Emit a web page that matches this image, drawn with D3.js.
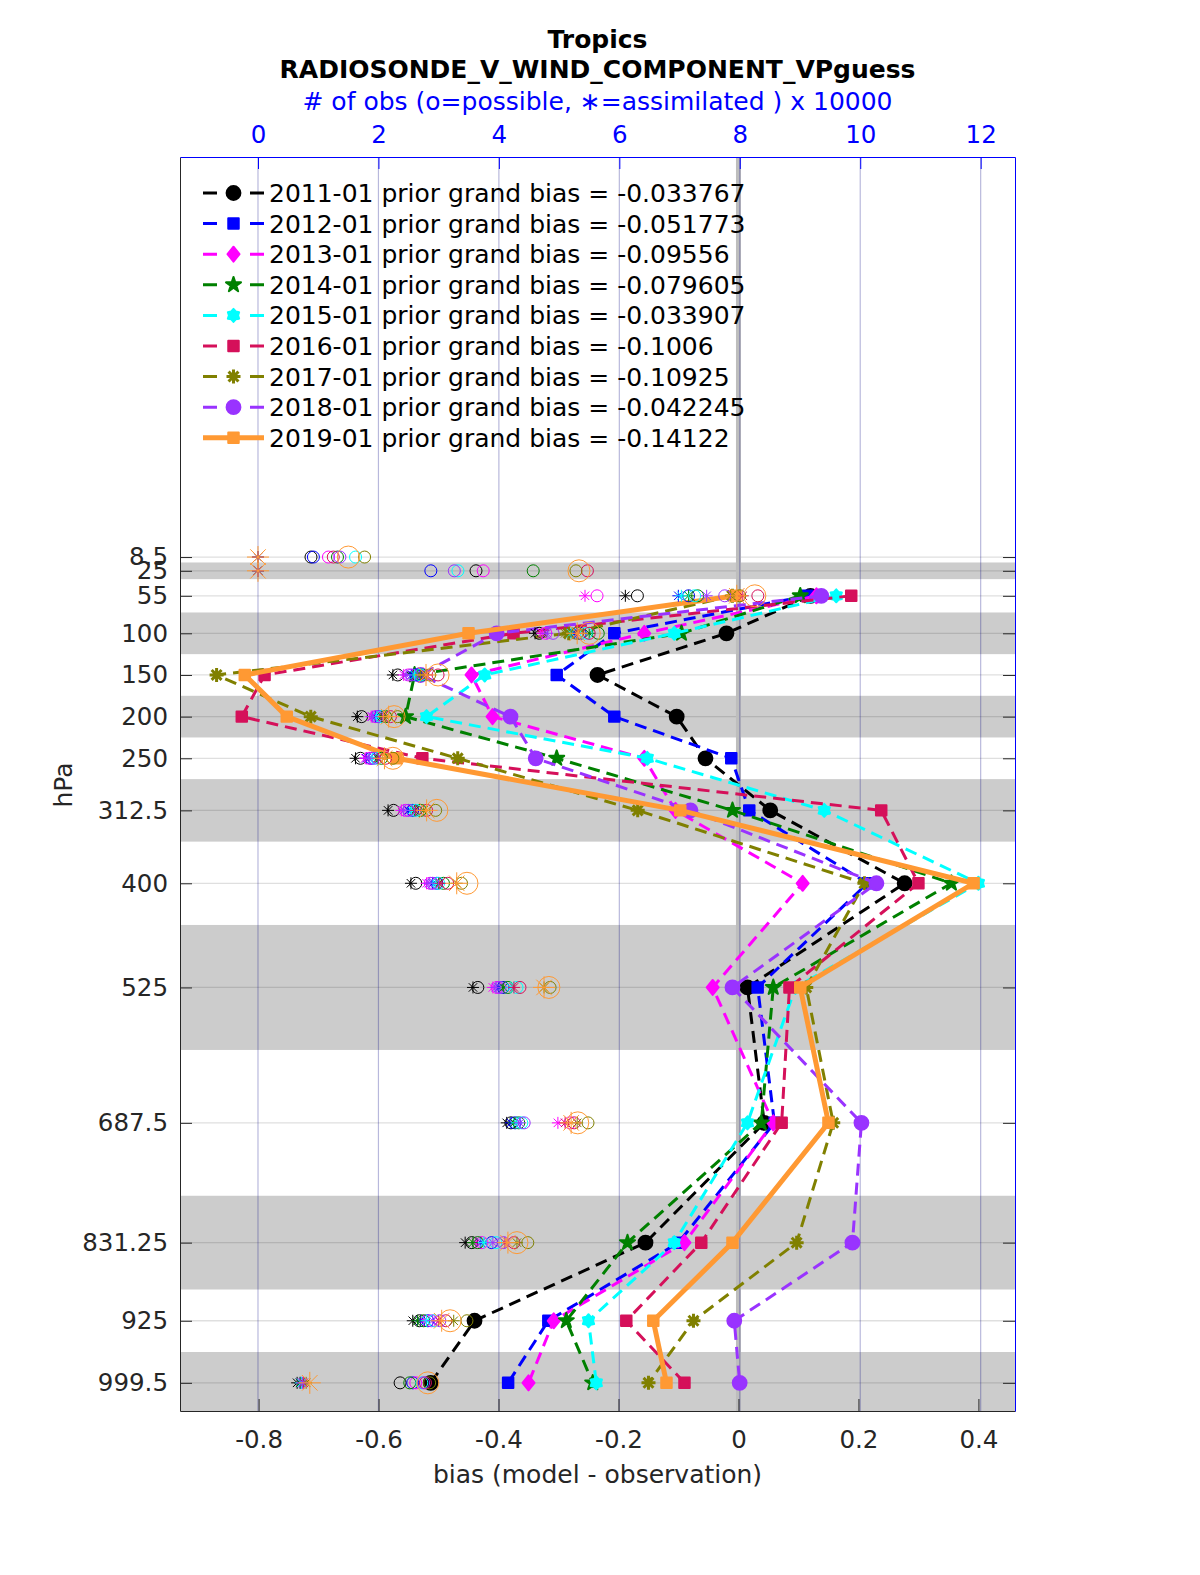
<!DOCTYPE html>
<meta charset="utf-8">
<head>
<style>
body { margin: 0; background: #fff; }
text { font-family: "DejaVu Sans", sans-serif; }
.axis text { font-size: 24.5px; fill: #262626; }
.axis path, .axis line { stroke: #262626; stroke-width: 1; }
.obsaxis text { font-size: 24.5px; fill: #0000ff; }
.obsaxis path, .obsaxis line { stroke: #0000ff; stroke-width: 1; }
</style>
</head>
<body>
<div id="my_dataviz"></div>
<script src="https://d3js.org/d3.v7.min.js"></script>
<script>

// pressure levels (hPa) and tick labels
var levels = [8.5, 25, 55, 100, 150, 200, 250, 312.5, 400, 525, 687.5, 831.25, 925, 999.5];
var levelLabels = ["8.5", "25", "55", "100", "150", "200", "250", "312.5", "400", "525", "687.5", "831.25", "925", "999.5"];
var biasTicks = [-0.8, -0.6, -0.4, -0.2, 0, 0.2, 0.4];
var obsTicks = [0, 2, 4, 6, 8, 10, 12];

// shaded layers (hPa)
var bandTop    = [15, 75, 175, 275, 450, 775, 962.5];
var bandBottom = [35, 125, 225, 350, 600, 887.5, 1040];

var years = ["2011-01", "2012-01", "2013-01", "2014-01", "2015-01", "2016-01", "2017-01", "2018-01", "2019-01"];
var grandBias = ["-0.033767", "-0.051773", "-0.09556", "-0.079605", "-0.033907", "-0.1006", "-0.10925", "-0.042245", "-0.14122"];

// prior bias per level (null = no value)
var bias2011 = [null, null, 0.120, -0.020, -0.235, -0.103, -0.055, 0.053, 0.277, 0.015, 0.043, -0.155, -0.440, -0.513];
var bias2012 = [null, null, 0.115, -0.207, -0.303, -0.207, -0.012, 0.018, 0.215, 0.032, 0.060, -0.100, -0.317, -0.384];
var bias2013 = [null, null, 0.130, -0.157, -0.445, -0.410, -0.157, -0.105, 0.107, -0.043, 0.058, -0.090, -0.308, -0.350];
var bias2014 = [null, null, 0.103, -0.095, -0.540, -0.555, -0.303, -0.010, 0.355, 0.058, 0.038, -0.185, -0.287, -0.243];
var bias2015 = [null, null, 0.163, -0.107, -0.423, -0.520, -0.152, 0.143, 0.400, 0.095, 0.015, -0.107, -0.250, -0.237];
var bias2016 = [null, null, 0.188, -0.375, -0.790, -0.828, -0.527, 0.238, 0.300, 0.085, 0.072, -0.062, -0.187, -0.090];
var bias2017 = [null, null, -0.010, -0.283, -0.870, -0.713, -0.468, -0.168, 0.210, 0.113, 0.158, 0.097, -0.075, -0.150];
var bias2018 = [null, null, 0.138, -0.403, -0.530, -0.380, -0.338, -0.080, 0.230, -0.010, 0.205, 0.190, -0.007, 0.002];
var bias2019 = [null, null, -0.005, -0.450, -0.823, -0.753, -0.570, -0.097, 0.392, 0.103, 0.150, -0.010, -0.142, -0.120];

// number of obs possible (x 10000)
var possible2011 = [0.88, 3.62, 6.30, 4.67, 2.32, 1.72, 1.70, 2.25, 2.62, 3.65, 4.20, 3.55, 2.68, 2.36];
var possible2012 = [0.92, 2.87, 7.15, 5.35, 2.62, 2.02, 1.88, 2.57, 2.97, 4.07, 4.27, 3.88, 2.82, 2.57];
var possible2013 = [1.17, 3.74, 5.63, 4.78, 2.50, 1.95, 1.85, 2.45, 2.86, 3.97, 5.18, 3.72, 2.88, 2.62];
var possible2014 = [1.32, 4.57, 7.30, 5.65, 2.72, 2.12, 2.05, 2.70, 3.08, 4.15, 4.33, 3.65, 2.75, 2.52];
var possible2015 = [1.62, 3.32, 7.25, 5.45, 2.70, 2.05, 1.97, 2.62, 3.00, 4.30, 4.38, 3.95, 2.92, 2.72];
var possible2016 = [1.25, 5.47, 8.30, 5.50, 2.99, 2.20, 2.12, 2.80, 3.15, 4.35, 5.25, 4.25, 3.12, 2.78];
var possible2017 = [1.77, 5.28, 8.00, 5.30, 2.85, 2.32, 2.24, 2.95, 3.38, 4.85, 5.48, 4.48, 3.47, 2.85];
var possible2018 = [1.36, 3.26, 7.75, 4.90, 2.55, 1.98, 1.92, 2.50, 2.90, 4.02, 4.42, 4.07, 3.02, 2.75];
var possible2019 = [1.50, 5.33, 8.25, 5.50, 2.99, 2.26, 2.24, 2.97, 3.47, 4.83, 5.31, 4.30, 3.19, 2.82];

// number of obs assimilated (x 10000)
var assim2011 = [0, 0, 6.10, 4.60, 2.24, 1.65, 1.62, 2.16, 2.54, 3.57, 4.13, 3.44, 2.57, 0.65];
var assim2012 = [0, 0, 6.98, 5.25, 2.55, 1.95, 1.80, 2.50, 2.90, 4.00, 4.20, 3.70, 2.70, 0.70];
var assim2013 = [0, 0, 5.43, 4.72, 2.42, 1.88, 1.78, 2.38, 2.80, 3.90, 4.98, 3.62, 2.75, 0.72];
var assim2014 = [0, 0, 7.15, 5.50, 2.65, 2.05, 1.98, 2.60, 3.00, 4.08, 4.25, 3.57, 2.65, 0.70];
var assim2015 = [0, 0, 7.03, 5.20, 2.60, 1.97, 1.90, 2.55, 2.95, 4.20, 4.30, 3.75, 2.80, 0.72];
var assim2016 = [0, 0, 8.05, 5.30, 2.80, 2.08, 2.00, 2.62, 3.02, 4.25, 5.10, 4.10, 3.00, 0.76];
var assim2017 = [0, 0, 7.85, 5.10, 2.70, 2.12, 2.10, 2.75, 3.30, 4.75, 5.30, 4.30, 3.25, 0.80];
var assim2018 = [0, 0, 7.45, 4.80, 2.46, 1.90, 1.85, 2.42, 2.84, 3.95, 4.35, 3.90, 2.90, 0.74];
var assim2019 = [0, 0, 7.95, 5.30, 2.79, 2.17, 2.10, 2.80, 3.30, 4.75, 5.20, 4.15, 3.05, 0.86];

var biasSeries = [bias2011, bias2012, bias2013, bias2014, bias2015, bias2016, bias2017, bias2018, bias2019];
var possibleSeries = [possible2011, possible2012, possible2013, possible2014, possible2015, possible2016, possible2017, possible2018, possible2019];
var assimSeries = [assim2011, assim2012, assim2013, assim2014, assim2015, assim2016, assim2017, assim2018, assim2019];

// styles
var colors = ["#000000", "#0000ff", "#ff00ff", "#008000", "#00ffff", "#d5105a", "#808000", "#9933ff", "#ff9933"];
var shapes = ["circle", "square", "diamond", "star", "hexagram", "square", "asterisk", "circle", "square"];

// plot box
var box = {left: 180, top: 157, right: 1015, bottom: 1411};

var svg = d3.select("#my_dataviz")
  .append("svg")
    .attr("width", 1200)
    .attr("height", 1575);

var x = d3.scaleLinear().domain([-0.931, 0.461]).range([box.left, box.right]);
var xObs = d3.scaleLinear().domain([-1.295, 12.57]).range([box.left, box.right]);
var y = d3.scaleLinear().domain([-471.6, 1033.3]).range([box.top, box.bottom]);

svg.append("clipPath").attr("id", "plotclip")
  .append("rect")
    .attr("x", box.left).attr("y", box.top)
    .attr("width", box.right - box.left).attr("height", box.bottom - box.top);

var plot = svg.append("g").attr("clip-path", "url(#plotclip)");

// grey layers
plot.selectAll(".band")
  .data(bandTop)
  .enter()
  .append("rect")
    .attr("x", box.left)
    .attr("width", box.right - box.left)
    .attr("y", function(d) { return y(d); })
    .attr("height", function(d, i) { return y(bandBottom[i]) - y(d); })
    .style("fill", "#cccccc");

// horizontal grid
plot.selectAll(".hgrid")
  .data(levels)
  .enter()
  .append("line")
    .attr("x1", box.left).attr("x2", box.right)
    .attr("y1", function(d) { return y(d); })
    .attr("y2", function(d) { return y(d); })
    .style("stroke", "rgba(38,38,38,0.15)")
    .style("stroke-width", 1.3);

// zero line
plot.append("line")
  .attr("x1", x(0)).attr("x2", x(0))
  .attr("y1", box.top).attr("y2", box.bottom)
  .style("stroke", "#bdbdbd")
  .style("stroke-width", 5);

// vertical grid from obs axis
plot.selectAll(".vgrid")
  .data(obsTicks)
  .enter()
  .append("line")
    .attr("x1", function(d) { return xObs(d); })
    .attr("x2", function(d) { return xObs(d); })
    .attr("y1", box.top).attr("y2", box.bottom)
    .style("stroke", "rgba(0,0,128,0.28)")
    .style("stroke-width", 1.2);

function asteriskPath(r) {
  var s = r * 0.7071;
  return "M" + (-r) + ",0L" + r + ",0M0," + (-r) + "L0," + r +
    "M" + (-s) + "," + (-s) + "L" + s + "," + s +
    "M" + (-s) + "," + s + "L" + s + "," + (-s);
}

function hexagramPath(r) {
  var pts = [];
  for (var k = 0; k < 12; k++) {
    var a = Math.PI / 6 * k - Math.PI / 2;
    var rr = (k % 2 == 0) ? r : r * 0.7;
    pts.push([rr * Math.cos(a), rr * Math.sin(a)]);
  }
  return "M" + pts.map(function(p) { return p[0].toFixed(2) + "," + p[1].toFixed(2); }).join("L") + "Z";
}

function diamondPath(w, h) {
  return "M0," + (-h) + "L" + w + ",0L0," + h + "L" + (-w) + ",0Z";
}

function markerPath(shape) {
  if (shape == "circle") return d3.symbol().type(d3.symbolCircle).size(150)();
  if (shape == "square") return d3.symbol().type(d3.symbolSquare).size(110)();
  if (shape == "diamond") return diamondPath(6, 7.5);
  if (shape == "star") return d3.symbol().type(d3.symbolStar).size(70)();
  if (shape == "hexagram") return hexagramPath(6.5);
  if (shape == "asterisk") return asteriskPath(7);
}

function drawMarker(g, shape, color) {
  var p = g.append("path").attr("d", markerPath(shape));
  if (shape == "asterisk") {
    p.style("fill", "none").style("stroke", color).style("stroke-width", 3);
  } else {
    p.style("fill", color).style("stroke", color).style("stroke-width", 2)
     .style("stroke-linejoin", "round");
  }
}

// bias profiles
biasSeries.forEach(function(vals, i) {
  var pts = levels.map(function(p, j) { return {p: p, b: vals[j]}; });
  var line = d3.line()
    .defined(function(d) { return d.b != null; })
    .x(function(d) { return x(d.b); })
    .y(function(d) { return y(d.p); });
  var last = (i == biasSeries.length - 1);
  plot.append("path")
    .datum(pts)
    .attr("d", line)
    .style("fill", "none")
    .style("stroke", colors[i])
    .style("stroke-width", last ? 5 : 3)
    .style("stroke-dasharray", last ? null : "12,7");

  plot.selectAll(".m" + i)
    .data(pts.filter(function(d) { return d.b != null; }))
    .enter()
    .append("g")
      .attr("transform", function(d) { return "translate(" + x(d.b) + "," + y(d.p) + ")"; })
      .each(function() { drawMarker(d3.select(this), shapes[i], colors[i]); });
});

// obs counts: o = possible, * = assimilated
possibleSeries.forEach(function(vals, i) {
  var big = (i == possibleSeries.length - 1);
  var r = big ? 11 : 6;
  plot.selectAll(".po" + i)
    .data(vals)
    .enter()
    .append("circle")
      .attr("cx", function(d) { return xObs(d); })
      .attr("cy", function(d, j) { return y(levels[j]); })
      .attr("r", r)
      .style("fill", "none")
      .style("stroke", colors[i])
      .style("stroke-width", 1);

  plot.selectAll(".as" + i)
    .data(assimSeries[i])
    .enter()
    .append("path")
      .attr("transform", function(d, j) { return "translate(" + xObs(d) + "," + y(levels[j]) + ")"; })
      .attr("d", asteriskPath(r))
      .style("fill", "none")
      .style("stroke", colors[i])
      .style("stroke-width", 1);
});

// axes
svg.append("g")
  .attr("class", "axis")
  .attr("transform", "translate(0," + box.bottom + ")")
  .call(d3.axisBottom(x).tickValues(biasTicks).tickFormat(function(d) { return String(d); })
    .tickSizeInner(-12).tickSizeOuter(0).tickPadding(20));

svg.append("g")
  .attr("class", "axis")
  .attr("transform", "translate(" + box.left + ",0)")
  .call(d3.axisLeft(y).tickValues(levels).tickFormat(function(d, i) { return levelLabels[i]; })
    .tickSizeInner(-12).tickSizeOuter(0).tickPadding(12));

var rightAxis = svg.append("g")
  .attr("class", "axis")
  .attr("transform", "translate(" + box.right + ",0)")
  .call(d3.axisRight(y).tickValues(levels).tickFormat("").tickSizeInner(-12).tickSizeOuter(0));
rightAxis.select(".domain").style("stroke", "#0000ff");

svg.append("g")
  .attr("class", "obsaxis")
  .attr("transform", "translate(0," + box.top + ")")
  .call(d3.axisTop(xObs).tickValues(obsTicks).tickSizeInner(-12).tickSizeOuter(0).tickPadding(14));

// titles and labels
svg.append("text")
  .attr("x", 597.5).attr("y", 48)
  .style("text-anchor", "middle").style("font-size", "25px").style("font-weight", "bold")
  .text("Tropics");
svg.append("text")
  .attr("x", 597.5).attr("y", 78)
  .style("text-anchor", "middle").style("font-size", "25px").style("font-weight", "bold")
  .text("RADIOSONDE_V_WIND_COMPONENT_VPguess");
svg.append("text")
  .attr("x", 597.5).attr("y", 110)
  .style("text-anchor", "middle").style("font-size", "25px").style("fill", "#0000ff")
  .text("# of obs (o=possible, \u2217=assimilated ) x 10000");
svg.append("text")
  .attr("x", 597.5).attr("y", 1483)
  .style("text-anchor", "middle").style("font-size", "25px").style("fill", "#262626")
  .text("bias (model - observation)");
svg.append("text")
  .attr("transform", "translate(72,785) rotate(-90)")
  .style("text-anchor", "middle").style("font-size", "25px").style("fill", "#262626")
  .text("hPa");

// legend
var legend = svg.selectAll(".legend")
  .data(years)
  .enter()
  .append("g")
    .attr("class", "legend")
    .attr("transform", function(d, i) { return "translate(0," + (193 + i * 30.6) + ")"; });

legend.append("line")
  .attr("x1", 203).attr("x2", 264)
  .style("stroke", function(d, i) { return colors[i]; })
  .style("stroke-width", function(d, i) { return i == years.length - 1 ? 5 : 3; })
  .style("stroke-dasharray", function(d, i) { return i == years.length - 1 ? null : "14,33,14"; });

legend.each(function(d, i) {
  var g = d3.select(this).append("g").attr("transform", "translate(233.5,0)");
  drawMarker(g, shapes[i], colors[i]);
});

legend.append("text")
  .attr("x", 269)
  .attr("y", 9)
  .style("font-size", "25px")
  .style("fill", "#000")
  .text(function(d, i) { return d + " prior grand bias = " + grandBias[i]; });

</script>
</body>
